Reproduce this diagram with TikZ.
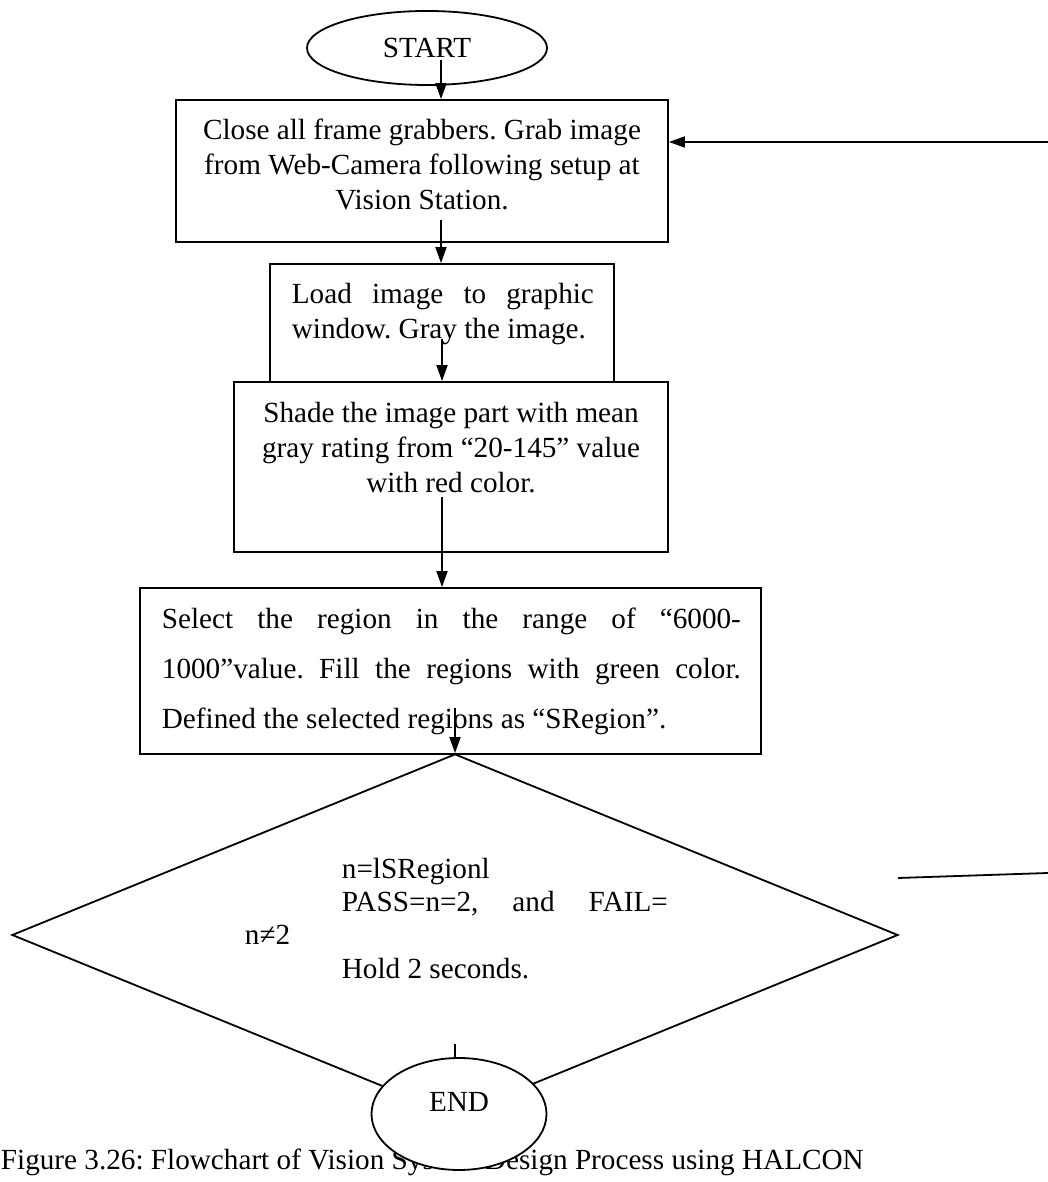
\documentclass[tikz,border=0pt]{standalone}
\usepackage{fontspec}
\setmainfont{Liberation Serif}
\usetikzlibrary{shapes.geometric,arrows.meta}
\frenchspacing

\begin{document}
\begin{tikzpicture}[x=0.5pt,y=0.5pt,line width=0.9pt,
  font=\fontsize{14.6}{17.5}\selectfont,
  box/.style={draw, rectangle, inner sep=0pt},
  oval/.style={draw, ellipse, inner sep=0pt, fill=white},
  txt/.style={inner sep=0pt},
  arr/.style={-{Triangle[width=5.5pt,length=8pt]}}]

\useasboundingbox (0,0) rectangle (1048,1182);

% Draw the caption (the END oval sits on top of it)
\node[txt, anchor=base west] (caption) at (0,12) {Figure 3.26: Flowchart of Vision System Design Process using HALCON};

% Draw the start oval
\node[oval, minimum width=120pt, minimum height=37pt] (start) at (427,1134) {START};

% Draw the process boxes
\node[box, minimum width=246pt, minimum height=71pt] (grab) at (422,1011) {};
\node[txt, anchor=north, align=center] (grabtxt) at (422,1064)
  {Close all frame grabbers. Grab image\\from Web-Camera following setup at\\Vision Station.};

\node[box, minimum width=172pt, minimum height=59pt] (load) at (442,859) {};
\node[txt, anchor=north west, text width=151pt, align=justify] (loadtxt) at (291,900)
  {Load image to graphic\linebreak window. Gray the image.};

\node[box, minimum width=217pt, minimum height=85pt] (shade) at (451,715) {};
\node[txt, anchor=north, align=center] (shadetxt) at (451,781)
  {Shade the image part with mean\\gray rating from “20-145” value\\with red color.};

\node[box, minimum width=310.5pt, minimum height=83pt] (select) at (450.5,511) {};
\node[txt, anchor=north west, text width=289.5pt, align=justify,
  font=\fontsize{14.6}{25}\selectfont] (selecttxt) at (161,575)
  {Select the region in the range of “6000-\linebreak 1000”value. Fill the regions with green color.\linebreak Defined the selected regions as “SRegion”.};

% Draw the decision
\node[draw, diamond, inner sep=0pt, minimum width=443pt, minimum height=181pt] (check) at (455,247) {};
\node[txt, anchor=north west, text width=211.5pt, align=justify,
  font=\fontsize{14.6}{16.7}\selectfont] (checktxt) at (244,325)
  {\hspace*{48.5pt}n=lSRegionl\\\hspace*{48.5pt}PASS=n=2, and FAIL=\linebreak n≠2\\\hspace*{48.5pt}Hold 2 seconds.};

% Draw the end oval
\node[oval, minimum width=87.5pt, minimum height=56pt, text depth=12pt] (end) at (459,68) {END};

% Draw the connectors
\coordinate (s0) at (441,1122);
\draw[arr] (s0) -- (s0 |- grab.north);
\coordinate (s1) at (441,962);
\draw[arr] (s1) -- (s1 |- load.north);
\coordinate (s2) at (442,843);
\draw[arr] (s2) -- (s2 |- shade.north);
\coordinate (s3) at (442,685);
\draw[arr] (s3) -- (s3 |- select.north);
\coordinate (s4) at (455,474);
\draw[arr] (s4) -- (check.north);
\coordinate (s5) at (455,138);
\draw (s5) -- (s5 |- end.north);

% Loop back and fail line
\coordinate (back) at (1048,1040);
\draw[arr] (back) -- (back -| grab.east);
\coordinate (fail) at (1048,309);
\coordinate (failend) at (898,304);
\draw (failend) -- (fail);

\end{tikzpicture}
\end{document}
